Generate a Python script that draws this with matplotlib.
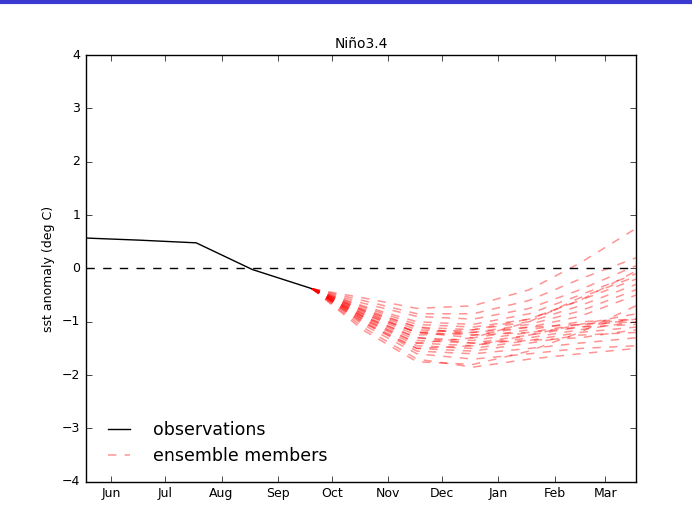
import datetime as dt
import numpy as np
import matplotlib
matplotlib.use("Agg")
import matplotlib.pyplot as plt
from matplotlib.lines import Line2D

plt.style.use('classic')

# observed Nino3.4 anomaly (monthly)
obs_dates = [dt.date(2016, 6, 1), dt.date(2016, 7, 1), dt.date(2016, 8, 1),
             dt.date(2016, 9, 1), dt.date(2016, 10, 4)]
obs_vals = [0.57, 0.53, 0.48, -0.02, -0.38]

# forecast dates for the ensemble members
ens_dates = [dt.date(2016, 10, 4), dt.date(2016, 11, 1), dt.date(2016, 12, 1),
             dt.date(2017, 1, 1), dt.date(2017, 2, 1), dt.date(2017, 3, 1),
             dt.date(2017, 4, 1)]
ens_start = -0.38
ens_members = [
    [-0.55, -0.75, -0.70, -0.40, 0.10, 0.75],
    [-0.60, -0.85, -0.85, -0.60, -0.20, 0.20],
    [-0.65, -0.90, -0.95, -0.75, -0.40, 0.05],
    [-0.70, -1.00, -1.05, -0.85, -0.50, -0.10],
    [-0.72, -1.05, -1.10, -0.95, -0.60, -0.20],
    [-0.75, -1.10, -1.15, -1.00, -0.70, -0.30],
    [-0.78, -1.15, -1.20, -1.05, -0.80, -0.40],
    [-0.80, -1.20, -1.25, -1.10, -0.90, -0.50],
    [-0.82, -1.20, -1.30, -1.15, -1.00, -0.95],
    [-0.85, -1.25, -1.20, -1.10, -1.05, -1.00],
    [-0.88, -1.30, -1.35, -1.20, -1.10, -1.05],
    [-0.90, -1.35, -1.40, -1.25, -1.10, -0.95],
    [-0.92, -1.40, -1.45, -1.30, -1.15, -1.00],
    [-0.95, -1.45, -1.50, -1.35, -1.20, -1.10],
    [-0.98, -1.50, -1.55, -1.40, -1.25, -1.20],
    [-1.00, -1.55, -1.60, -1.50, -1.40, -1.30],
    [-1.05, -1.60, -1.70, -1.60, -1.50, -1.45],
    [-1.10, -1.70, -1.85, -1.70, -1.60, -1.50],
    [-1.15, -1.75, -1.80, -1.55, -1.20, -0.70],
    [-0.85, -1.20, -1.15, -0.95, -0.60, -0.05],
    [-0.95, -1.40, -1.30, -1.00, -0.55, -0.15],
    [-0.78, -1.10, -1.25, -1.20, -1.05, -0.95],
    [-1.02, -1.50, -1.45, -1.25, -1.05, -0.85],
    [-0.90, -1.30, -1.40, -1.35, -1.30, -1.15],
]

month_ticks = [dt.date(2016, m, 15) for m in range(6, 13)] + \
              [dt.date(2017, m, 15) for m in range(1, 4)]
month_labels = ["Jun", "Jul", "Aug", "Sep", "Oct", "Nov", "Dec", "Jan", "Feb", "Mar"]

fig = plt.figure(figsize=(6.92, 5.30), dpi=100, facecolor='white')
ax = fig.add_axes([0.124, 0.091, 0.795, 0.805])

ax.plot(obs_dates, obs_vals, color='k', linewidth=1, label='observations')
for i, m in enumerate(ens_members):
    ax.plot(ens_dates, [ens_start] + m, color='red', linestyle='--',
            linewidth=1.1, alpha=0.42,
            label='ensemble members' if i == 0 else None)

ax.axhline(0, color='k', linestyle='--', linewidth=1)

ax.set_xlim(dt.date(2016, 6, 1), dt.date(2017, 4, 1))
ax.set_ylim(-4, 4)
ax.set_xticks(month_ticks)
ax.set_xticklabels(month_labels)
ax.set_yticks(np.arange(-4, 5, 1))
ax.tick_params(labelsize=9)
ax.set_ylabel("sst anomaly (deg C)", fontsize=9)
ax.set_title("Niño3.4", fontsize=10)

ax.legend(loc='lower left', frameon=False, fontsize=12.5, handlelength=1.9,
          handletextpad=1.0, borderaxespad=0.55, labelspacing=0.5)

# thin blue strip along the top edge of the screenshot
fig.add_artist(Line2D([0, 1], [0.997, 0.997], transform=fig.transFigure,
                      color='#3a3ad0', linewidth=3))

fig.savefig("out.png", dpi=100, facecolor='white')
